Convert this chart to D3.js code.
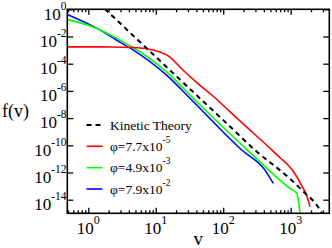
<!DOCTYPE html>
<html><head><meta charset="utf-8">
<script src="https://cdn.jsdelivr.net/npm/d3@7"></script>
<style>
html,body{margin:0;padding:0;background:#fff;}
svg{display:block;font-family:"Liberation Serif","Times New Roman",serif;}
</style></head>
<body>
<svg id="c" width="332" height="248"></svg>
<script>
// ---- data ----
const xMajorTicks = [1, 10, 100, 1000];
const xTickExponents = ["0", "1", "2", "3"];
const yMajorTicks = [1, 1e-2, 1e-4, 1e-6, 1e-8, 1e-10, 1e-12, 1e-14];
const yTickExponents = ["0", "-2", "-4", "-6", "-8", "-10", "-12", "-14"];

const kineticV = [1.75, 10, 45.3, 100, 313, 975, 1540, 2560, 2900];
const kineticF = [1.1, 3.2e-4, 2.8e-7, 7.1e-9, 3.5e-11, 3.5e-13, 4.0e-14, 2.8e-15, 1.0e-15];

const redV = [0.49, 1, 2, 4, 6.3, 10, 15.7, 25, 44, 67.5, 177, 552, 708, 891, 1072, 1259, 1445, 1629, 1778, 1932];
const redF = [1.74e-3, 1.74e-3, 1.70e-3, 1.58e-3, 1.38e-3, 9.1e-4, 3.5e-4, 3.6e-5, 2.9e-6, 5.0e-7, 6.2e-9, 3.6e-11, 1.12e-11, 4.0e-12, 1.41e-12, 4.0e-13, 1.12e-13, 3.9e-14, 1.26e-14, 3.1e-15];

const greenV = [0.49, 1.30, 2.57, 4.55, 14.2, 38.1, 223, 975, 1230, 1375];
const greenF = [0.174, 0.042, 7.8e-3, 1.62e-3, 2.75e-5, 2.14e-7, 5.0e-11, 6.9e-14, 2.95e-14, 1.0e-15];

const blueV = [0.49, 1.46, 2.57, 4.55, 14.2, 34.1, 188, 416, 552];
const blueF = [0.42, 3.2e-2, 5.8e-3, 1.07e-3, 1.55e-5, 2.14e-7, 4.5e-11, 1.5e-12, 1.6e-13];

const legendLabels = ["Kinetic Theory", "\u03C6=7.7x10", "\u03C6=4.9x10", "\u03C6=7.9x10"];
const legendExponents = ["", "-5", "-3", "-2"];
const seriesColors = ["#000000", "#ff0000", "#00ff00", "#0000ff"];

// ---- layout ----
const L = 67.3, R = 329.3, T = 9.3, B = 213.3;
const svg = d3.select("#c");
const x = d3.scaleLog().domain([0.4885, 3733]).range([L, R]);
const y = d3.scaleLog().domain([1e-15, 1]).range([B, T]);

svg.append("clipPath").attr("id", "clip")
  .append("rect").attr("x", L).attr("y", T).attr("width", R - L).attr("height", B - T);

const line = d3.line().x(d => x(d[0])).y(d => y(d[1])).curve(d3.curveMonotoneX);
const series = [
  {v: kineticV, f: kineticF, dash: "5,4", w: 2},
  {v: redV, f: redF, dash: null, w: 1.6},
  {v: greenV, f: greenF, dash: null, w: 1.6},
  {v: blueV, f: blueF, dash: null, w: 1.6}
];
const g = svg.append("g").attr("clip-path", "url(#clip)");
[3, 2, 1, 0].forEach(i => {
  const s = series[i];
  g.append("path")
    .attr("d", line(s.v.map((v, k) => [v, s.f[k]])))
    .attr("fill", "none").attr("stroke", seriesColors[i])
    .attr("stroke-width", s.w)
    .attr("stroke-dasharray", s.dash);
});

// ---- axes (ticks inward) ----
const minorX = [];
[0.1, 1, 10, 100, 1000].forEach(d => { for (let m = 2; m <= 9; m++) { const v = d * m; if (v >= 0.4885 && v <= 3733) minorX.push(v); } });

function styleAxis(sel) {
  sel.selectAll(".domain").remove();
  sel.selectAll("text").remove();
  sel.selectAll("line").attr("stroke", "#000").attr("stroke-width", 1.3);
}
svg.append("g").attr("transform", `translate(0,${B})`)
  .call(d3.axisBottom(x).tickValues(xMajorTicks).tickSize(-5.5)).call(styleAxis);
svg.append("g").attr("transform", `translate(0,${B})`)
  .call(d3.axisBottom(x).tickValues(minorX).tickSize(-3)).call(styleAxis);
svg.append("g").attr("transform", `translate(0,${T})`)
  .call(d3.axisTop(x).tickValues(xMajorTicks).tickSize(-5.5)).call(styleAxis);
svg.append("g").attr("transform", `translate(0,${T})`)
  .call(d3.axisTop(x).tickValues(minorX).tickSize(-3)).call(styleAxis);
svg.append("g").attr("transform", `translate(${L},0)`)
  .call(d3.axisLeft(y).tickValues(yMajorTicks).tickSize(-6)).call(styleAxis);
svg.append("g").attr("transform", `translate(${R},0)`)
  .call(d3.axisRight(y).tickValues(yMajorTicks).tickSize(-6)).call(styleAxis);

svg.append("rect").attr("x", L).attr("y", T).attr("width", R - L).attr("height", B - T)
  .attr("fill", "none").attr("stroke", "#000").attr("stroke-width", 1.6);

// ---- tick labels ----
xMajorTicks.forEach((v, i) => {
  const t = svg.append("text").attr("x", x(v)).attr("y", 233.5)
    .attr("text-anchor", "middle").attr("font-size", 17);
  t.append("tspan").text("10");
  t.append("tspan").attr("dy", -10).attr("font-size", 12).text(xTickExponents[i]);
});
yMajorTicks.forEach((v, i) => {
  const t = svg.append("text").attr("x", 66.5).attr("y", y(v) + 10.3)
    .attr("text-anchor", "end").attr("font-size", 17);
  t.append("tspan").text("10");
  t.append("tspan").attr("dy", -10).attr("font-size", 11.5).text(yTickExponents[i]);
});

// axis titles
svg.append("text").attr("x", 2).attr("y", 117).attr("font-size", 18).text("f(v)");
svg.append("text").attr("x", (L + R) / 2).attr("y", 245).attr("text-anchor", "middle").attr("font-size", 19).text("v");

// ---- legend ----
const legY = [125, 146.3, 167.7, 189];
legendLabels.forEach((lab, i) => {
  svg.append("line").attr("x1", 86.5).attr("x2", 102.5).attr("y1", legY[i]).attr("y2", legY[i])
    .attr("stroke", seriesColors[i]).attr("stroke-width", series[i].w)
    .attr("stroke-dasharray", series[i].dash);
  const t = svg.append("text").attr("x", 110).attr("y", legY[i] + 4.7).attr("font-size", 13.5);
  t.append("tspan").text(lab);
  if (legendExponents[i]) t.append("tspan").attr("dy", -8).attr("font-size", 9.5).text(legendExponents[i]);
});
</script>
</body></html>
